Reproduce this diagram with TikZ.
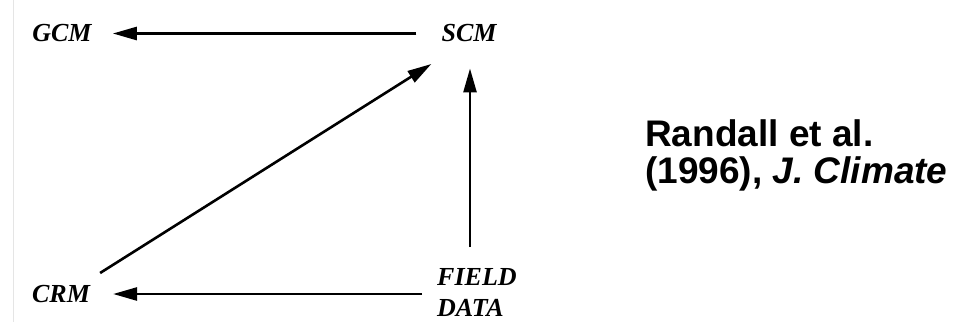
\documentclass[tikz,border=0pt]{standalone}
\usepackage{fontspec}
\setmainfont{Liberation Serif}
\newfontfamily\arialfont{Liberation Sans}
\usetikzlibrary{arrows.meta,calc}
\tikzset{
  lbl/.style={inner sep=0pt, font=\fontsize{26}{31}\selectfont\bfseries\itshape},
  arr/.style={line width=2.6pt, -{Triangle[length=24pt,width=13pt]}},
  reftext/.style={inner sep=0pt, anchor=base west, font=\arialfont\fontsize{37}{40}\selectfont\bfseries}
}
\begin{document}
\begin{tikzpicture}[x=1pt,y=-1pt]
\useasboundingbox (0,0) rectangle (955,322);
\fill[white] (0,0) rectangle (955,322);
\draw[black!10, line width=1pt] (13,0) -- (13,322);
\node[lbl] (GCM) at (62,33.5) {GCM};
\node[lbl] (SCM) at (469,33.5) {SCM};
\node[lbl] (CRM) at (61,294) {CRM};
\node[lbl, align=left, anchor=west] (FD) at (437,293) {FIELD\\DATA};
\draw[arr, shorten <=25pt, shorten >=21pt] (SCM.west) -- (GCM.east);
\draw[arr, shorten >=23pt] (CRM.east -| FD.west) ++(-15,0) -- (CRM.east);
\draw[arr] ($(CRM.east)+(10,-21)$) -- ($(SCM.west)+(-10,30.5)$);
\draw[arr] ($(SCM.south |- 0,247)+(1,0)$) -- ($(SCM.south)+(1,26)$);
\node[reftext] (ref1) at (645,146) {Randall et al.};
\node[reftext] (ref2) at (645,183) {(1996), \textit{J. Climate}};
\end{tikzpicture}
\end{document}
